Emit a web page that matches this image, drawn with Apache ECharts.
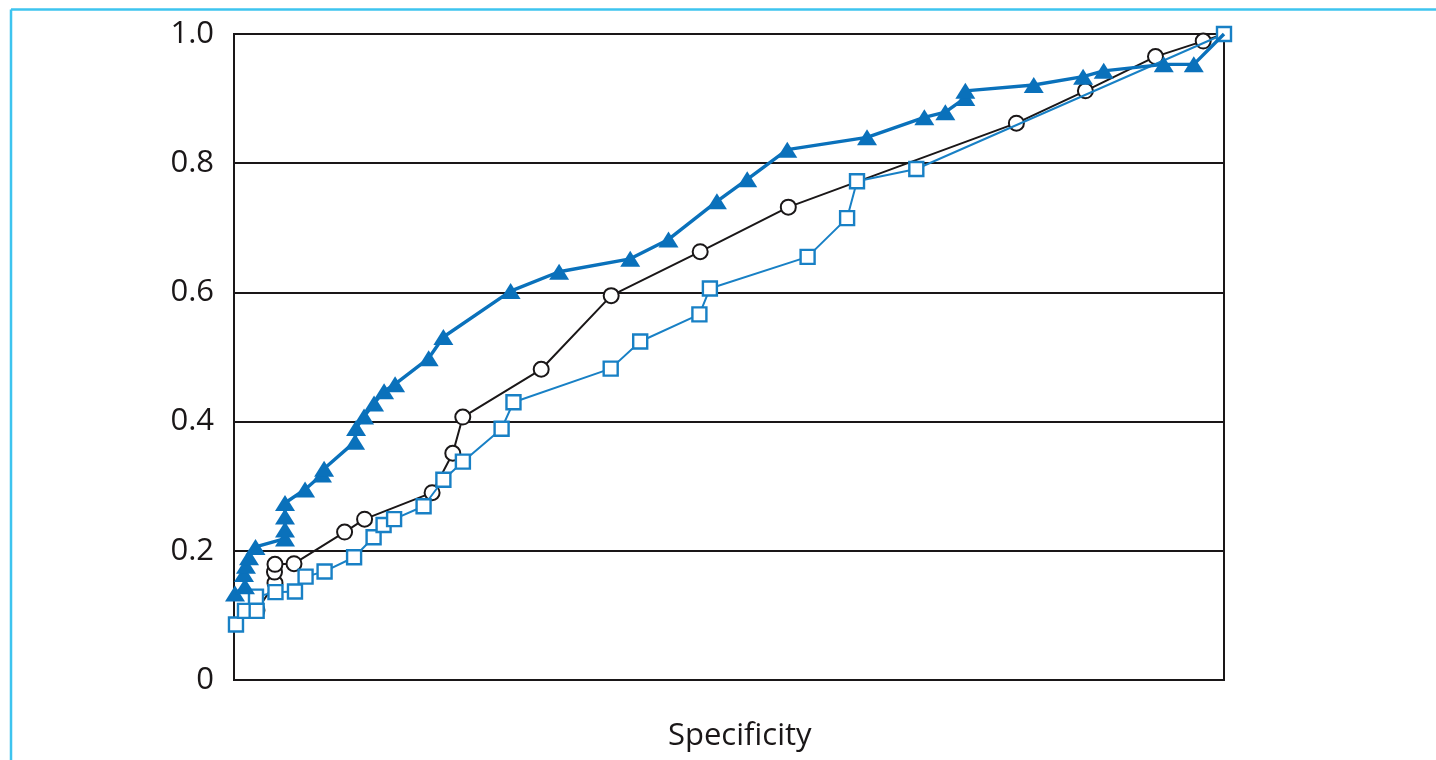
<!DOCTYPE html>
<html>
<head>
<meta charset="utf-8">
<title>Specificity curves</title>
<script src="https://cdn.jsdelivr.net/npm/echarts@6/dist/echarts.min.js"></script>
<style>
  html, body { margin: 0; padding: 0; background: #ffffff; }
  #chart { width: 1436px; height: 760px; }
</style>
</head>
<body>
<div id="chart"></div>
<script>
// Y-axis tick labels
const yTicks = [0, 0.2, 0.4, 0.6, 0.8, 1.0];
const xTitle = 'Specificity';

// Series drawn with filled triangles (thick blue line)
const triX = [0.001, 0.0111, 0.0101, 0.0121, 0.0152, 0.0217, 0.0515, 0.0515, 0.0515, 0.0515,
  0.0718, 0.0889, 0.0910, 0.1223, 0.1233, 0.1314, 0.1415, 0.1516, 0.1627, 0.1966,
  0.2115, 0.2794, 0.3284, 0.4002, 0.4389, 0.4878, 0.5184, 0.5589, 0.6394, 0.6973,
  0.7185, 0.7387, 0.7387, 0.8078, 0.8577, 0.8785, 0.9392, 0.9695, 1.0];
const triY = [0.134, 0.145, 0.164, 0.177, 0.190, 0.206, 0.219, 0.233, 0.253, 0.274,
  0.295, 0.318, 0.327, 0.369, 0.390, 0.408, 0.428, 0.447, 0.458, 0.498,
  0.531, 0.602, 0.632, 0.652, 0.682, 0.741, 0.775, 0.821, 0.840, 0.871,
  0.879, 0.901, 0.912, 0.921, 0.934, 0.943, 0.953, 0.953, 1.0];

// Series drawn with open circles (thin black line)
const circX = [0.0232, 0.0414, 0.0409, 0.0414, 0.0606, 0.1117, 0.1319, 0.2001, 0.2210, 0.2311,
  0.3103, 0.3810, 0.4709, 0.5599, 0.7903, 0.8600, 0.9308, 0.9790, 1.0];
const circY = [0.108, 0.150, 0.167, 0.179, 0.180, 0.229, 0.249, 0.290, 0.351, 0.407,
  0.481, 0.595, 0.663, 0.732, 0.862, 0.912, 0.965, 0.989, 1.0];

// Series drawn with open squares (thin blue line)
const sqX = [0.0020, 0.0111, 0.0229, 0.0222, 0.0419, 0.0616, 0.0723, 0.0915, 0.1213, 0.1410,
  0.1511, 0.1617, 0.1915, 0.2115, 0.2312, 0.2703, 0.2823, 0.3805, 0.4103, 0.4701,
  0.4807, 0.5794, 0.6193, 0.6293, 0.6892, 1.0];
const sqY = [0.086, 0.107, 0.107, 0.129, 0.136, 0.137, 0.160, 0.168, 0.190, 0.221,
  0.240, 0.249, 0.269, 0.310, 0.338, 0.389, 0.430, 0.482, 0.524, 0.566,
  0.606, 0.655, 0.715, 0.772, 0.791, 1.0];

// pair up x/y; the shared end point (1, 1) sits under the square marker,
// so the triangle and circle curves only run their line into it
const zip = (xs, ys, hideLast) => xs.map((x, i) => {
  const item = { value: [x, ys[i]] };
  if (hideLast && i === xs.length - 1) item.symbol = 'none';
  return item;
});

const INK = '#1a1718';
const BLUE_DARK = '#0a71bb';
const BLUE = '#1880c5';
const FONT = '"Open Sans", "Noto Sans", sans-serif';

const chart = echarts.init(document.getElementById('chart'), null, { renderer: 'canvas' });

chart.setOption({
  backgroundColor: '#ffffff',
  animation: false,
  grid: {
    left: 234, right: 212, top: 34, bottom: 80,
    show: true, borderColor: INK, borderWidth: 2, backgroundColor: 'transparent'
  },
  xAxis: {
    type: 'value', min: 0, max: 1,
    axisLine: { show: true, lineStyle: { color: INK, width: 2 } },
    axisTick: { show: false },
    axisLabel: { show: false },
    splitLine: { show: false }
  },
  yAxis: {
    type: 'value', min: 0, max: 1, interval: 0.2,
    axisLine: { show: true, lineStyle: { color: INK, width: 2 } },
    axisTick: { show: false },
    axisLabel: {
      color: INK, fontFamily: FONT, fontSize: 31, margin: 20,
      formatter: v => {
        const t = yTicks.find(k => Math.abs(k - v) < 1e-9);
        if (t === undefined) return '';
        return t === 0 ? '0' : t.toFixed(1);
      }
    },
    splitLine: { show: true, lineStyle: { color: INK, width: 2 } }
  },
  graphic: [
    // light cyan page frame along the top and left edges
    { type: 'line', shape: { x1: 11, y1: 9.5, x2: 1436, y2: 9.5 },
      style: { stroke: '#3ec4ef', lineWidth: 2.5 }, z: 0 },
    { type: 'line', shape: { x1: 11, y1: 9.5, x2: 11, y2: 760 },
      style: { stroke: '#3ec4ef', lineWidth: 2.5 }, z: 0 },
    { type: 'text', left: 668, top: 721,
      style: { text: xTitle, font: '31px ' + FONT, fill: INK } }
  ],
  series: [
    {
      name: 'circles', type: 'line', data: zip(circX, circY, true), z: 3,
      symbol: 'circle', symbolSize: 15, showAllSymbol: true,
      lineStyle: { color: INK, width: 2 },
      itemStyle: { color: '#ffffff', borderColor: INK, borderWidth: 2 }
    },
    {
      name: 'squares', type: 'line', data: zip(sqX, sqY, false), z: 4,
      symbol: 'rect', symbolSize: 14, showAllSymbol: true,
      lineStyle: { color: BLUE, width: 2 },
      itemStyle: { color: '#ffffff', borderColor: BLUE, borderWidth: 2.4 }
    },
    {
      name: 'triangles', type: 'line', data: zip(triX, triY, true), z: 5,
      symbol: 'triangle', symbolSize: [20, 16], showAllSymbol: true,
      lineStyle: { color: BLUE_DARK, width: 3.4 },
      itemStyle: { color: BLUE_DARK, borderWidth: 0 }
    }
  ]
});
</script>
</body>
</html>
